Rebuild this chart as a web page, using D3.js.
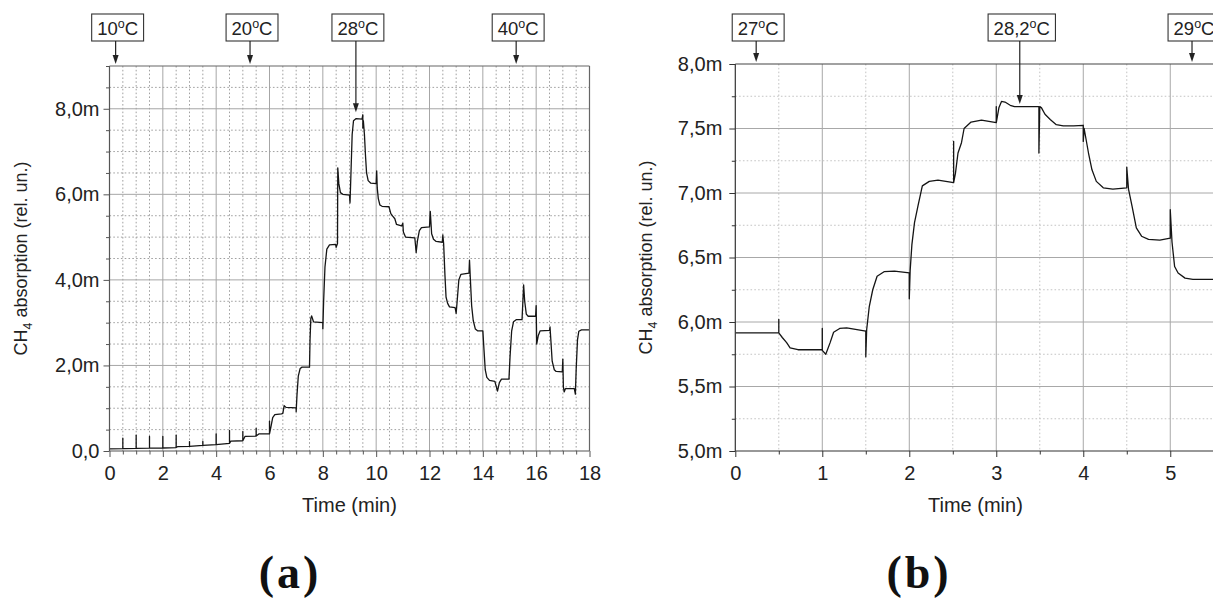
<!DOCTYPE html>
<html>
<head>
<meta charset="utf-8">
<script src="https://cdn.jsdelivr.net/npm/d3@7"></script>
<style>
  html, body { margin: 0; padding: 0; background: #fff; }
  svg { display: block; font-family: "Liberation Sans", Arial, Helvetica, sans-serif; }
</style>
</head>
<body>
<svg id="fig" width="1213" height="600"></svg>
<script>
// ---------- Panel (a): CH4 absorption during the 10–40 ºC temperature sweep ----------
const timeA = [
  0, 0.5, 0.5, 0.5, 1.0, 1.0, 1.0, 1.5, 1.5, 1.5, 2.0, 2.0, 2.0, 2.5, 2.5, 2.5, 2.55,
  3.0, 3.0, 3.0, 3.5, 3.5, 3.5, 4.0, 4.0, 4.0, 4.5, 4.5, 4.5, 4.55, 5.0, 5.0, 5.0, 5.08,
  5.5, 5.5, 5.5, 5.6, 6.0, 6.0, 6.0, 6.05, 6.12, 6.2, 6.45, 6.5, 6.55, 6.62, 7.0, 7.0,
  7.03, 7.08, 7.15, 7.22, 7.5, 7.52, 7.55, 7.58, 7.65, 8.0, 8.0, 8.03, 8.08, 8.15, 8.25,
  8.48, 8.5, 8.55, 8.56, 8.6, 8.66, 8.75, 9.0, 9.02, 9.06, 9.1, 9.15, 9.25, 9.47, 9.5,
  9.5, 9.52, 9.56, 9.6, 9.64, 9.7, 9.8, 10.0, 10.02, 10.04, 10.08, 10.14, 10.22, 10.48,
  10.55, 10.62, 10.7, 10.76, 10.95, 11.0, 11.02, 11.1, 11.45, 11.5, 11.55, 11.62, 11.7,
  12.0, 12.03, 12.08, 12.15, 12.25, 12.48, 12.5, 12.53, 12.58, 12.62, 12.68, 12.75, 12.96,
  13.0, 13.05, 13.1, 13.18, 13.48, 13.5, 13.53, 13.58, 13.64, 13.72, 13.8, 14.0, 14.04,
  14.09, 14.15, 14.25, 14.45, 14.55, 14.62, 14.7, 14.98, 15.02, 15.08, 15.15, 15.25, 15.47,
  15.53, 15.57, 15.63, 15.7, 15.98, 16.0, 16.02, 16.08, 16.15, 16.5, 16.52, 16.55, 16.6,
  16.68, 16.75, 16.98, 17.0, 17.02, 17.05, 17.1, 17.43, 17.47, 17.5, 17.55, 17.6, 17.7, 18.0
];
const absA = [
  0.05, 0.055, 0.30, 0.055, 0.06, 0.37, 0.06, 0.065, 0.34, 0.065, 0.07, 0.34, 0.07, 0.08, 0.37, 0.08, 0.10,
  0.11, 0.22, 0.11, 0.13, 0.23, 0.13, 0.15, 0.40, 0.15, 0.18, 0.48, 0.18, 0.23, 0.24, 0.45, 0.24, 0.34,
  0.35, 0.53, 0.35, 0.40, 0.40, 0.70, 0.40, 0.55, 0.78, 0.85, 0.87, 0.88, 1.06, 1.02, 1.01, 0.92,
  1.30, 1.75, 1.93, 1.96, 1.96, 2.60, 3.10, 3.16, 3.02, 3.00, 2.86, 3.50, 4.30, 4.72, 4.82,
  4.83, 4.76, 4.85, 6.62, 6.25, 6.04, 6.00, 5.98, 5.80, 6.60, 7.40, 7.72, 7.77, 7.76, 7.86,
  7.55, 7.72, 7.40, 6.90, 6.50, 6.32, 6.26, 6.25, 6.55, 6.15, 5.90, 5.75, 5.72, 5.71,
  5.55, 5.49, 5.43, 5.30, 5.26, 5.32, 5.12, 5.00, 4.98, 4.64, 4.92, 5.15, 5.22,
  5.24, 5.60, 5.08, 4.95, 4.90, 4.88, 5.05, 4.85, 4.10, 3.60, 3.45, 3.37, 3.35,
  3.22, 3.60, 4.00, 4.13, 4.16, 4.46, 4.05, 3.40, 3.05, 2.85, 2.81, 2.81, 2.40,
  1.90, 1.72, 1.65, 1.63, 1.40, 1.60, 1.68, 1.68, 2.20, 2.80, 3.02, 3.07, 3.07,
  3.88, 3.50, 3.20, 3.15, 3.15, 3.40, 2.50, 2.70, 2.81, 2.82, 2.90, 2.60, 2.10,
  1.90, 1.86, 1.85, 2.15, 1.50, 1.38, 1.46, 1.46, 1.33, 1.90, 2.60, 2.80, 2.83, 2.83
];
const xTicksA = [0, 2, 4, 6, 8, 10, 12, 14, 16, 18];
const yTicksA = [0, 2, 4, 6, 8];
const tempTimeA  = [0.23, 5.27, 9.24, 15.25];
const tempLabelA = ["10", "20", "28", "40"];
const tempTipA   = [null, null, 7.92, null];   // null: arrow stops at the frame

// ---------- Panel (b): CH4 absorption around 28 ºC ----------
const timeB = [
  0, 0.5, 0.5, 0.5, 0.54, 0.59, 0.63, 0.72, 1.0, 1.0, 1.0, 1.04, 1.09, 1.13, 1.2, 1.28,
  1.5, 1.5, 1.51, 1.54, 1.58, 1.63, 1.71, 1.83, 2.0, 2.0, 2.01, 2.03, 2.06, 2.1, 2.15,
  2.23, 2.33, 2.51, 2.51, 2.51, 2.53, 2.56, 2.6, 2.63, 2.71, 2.83, 3.0, 3.0, 3.0, 3.03,
  3.06, 3.1, 3.16, 3.21, 3.35, 3.49, 3.49, 3.5, 3.52, 3.56, 3.62, 3.69, 3.77, 3.89, 4.0,
  4.0, 4.01, 4.06, 4.1, 4.15, 4.23, 4.34, 4.5, 4.5, 4.52, 4.56, 4.61, 4.67, 4.75, 4.88,
  5.0, 5.0, 5.02, 5.05, 5.09, 5.17, 5.26, 5.55
];
const absB = [
  5.915, 5.915, 6.02, 5.915, 5.88, 5.84, 5.80, 5.785, 5.785, 5.95, 5.78, 5.75, 5.84, 5.92, 5.95, 5.955,
  5.93, 5.73, 5.94, 6.12, 6.25, 6.355, 6.39, 6.395, 6.38, 6.18, 6.40, 6.60, 6.77, 6.90, 7.055,
  7.09, 7.10, 7.08, 7.40, 7.08, 7.15, 7.31, 7.39, 7.50, 7.55, 7.565, 7.545, 7.67, 7.545, 7.66,
  7.71, 7.705, 7.68, 7.67, 7.67, 7.67, 7.31, 7.67, 7.66, 7.61, 7.57, 7.53, 7.52, 7.52, 7.525,
  7.40, 7.50, 7.31, 7.18, 7.09, 7.04, 7.03, 7.04, 7.20, 7.03, 6.90, 6.73, 6.665, 6.64, 6.635,
  6.65, 6.87, 6.62, 6.43, 6.38, 6.34, 6.33, 6.33
];
const xTicksB = [0, 1, 2, 3, 4, 5];
const yTicksB = [5.0, 5.5, 6.0, 6.5, 7.0, 7.5, 8.0];
const tempTimeB  = [0.24, 3.27, 5.25];
const tempLabelB = ["27", "28,2", "29"];
const tempTipB   = [null, 7.69, null];

// ---------- drawing ----------
const svg = d3.select("#fig");
svg.append("rect").attr("width", 1213).attr("height", 600).attr("fill", "#fff");

const fmtM = d => d === 0 ? "0,0" : d.toFixed(1).replace(".", ",") + "m";
const near = (a, b) => Math.abs(a - b) < 1e-6;
const isMult = (v, step) => near(v / step, Math.round(v / step));
const LABEL_SIZE = 20;

function panel(p) {
  const g = svg.append("g");
  const x = d3.scaleLinear().domain(p.xDomain).range(p.xRange);
  const y = d3.scaleLinear().domain(p.yDomain).range(p.yRange);
  const [xl, xr] = p.xRange;
  const [yb, yt] = p.yRange;

  const clipId = "clip-" + p.id;
  g.append("clipPath").attr("id", clipId)
    .append("rect").attr("x", xl).attr("y", yt).attr("width", xr - xl).attr("height", yb - yt);

  // grid
  const grid = g.append("g");
  const xg = d3.range(p.xDomain[0] + p.xMinor, p.xDomain[1] - 1e-6, p.xMinor);
  const yg = d3.range(p.yDomain[0] + p.yMinor, p.yDomain[1] - 1e-6, p.yMinor);
  xg.forEach(v => {
    const major = isMult(v, p.xMajor);
    grid.append("line")
      .attr("x1", x(v)).attr("x2", x(v)).attr("y1", yt).attr("y2", yb)
      .attr("stroke", major ? p.majorGrid : p.minorGrid)
      .attr("stroke-width", 1)
      .attr("stroke-dasharray", major ? null : "1.6,2.2");
  });
  yg.forEach(v => {
    const major = isMult(v - p.yDomain[0], p.yMajor);
    grid.append("line")
      .attr("x1", xl).attr("x2", xr).attr("y1", y(v)).attr("y2", y(v))
      .attr("stroke", major ? p.majorGrid : p.minorGrid)
      .attr("stroke-width", 1)
      .attr("stroke-dasharray", major ? null : "1.6,2.2");
  });

  // data trace
  const idx = d3.range(p.time.length);
  g.append("path")
    .attr("clip-path", `url(#${clipId})`)
    .attr("d", d3.line().x(i => x(p.time[i])).y(i => y(p.vals[i]))(idx))
    .attr("fill", "none").attr("stroke", "#151515").attr("stroke-width", 1.3)
    .attr("stroke-linejoin", "round");

  // axes: minor ticks first, then labelled major ticks
  const styleAxis = sel => {
    sel.select(".domain").remove();
    sel.selectAll(".tick line").attr("stroke", p.frame);
    sel.selectAll(".tick text").attr("fill", "#222").attr("font-size", LABEL_SIZE)
      .attr("font-family", "'Liberation Sans', Arial, sans-serif");
  };
  const xMinorTicks = d3.range(p.xDomain[0], p.xDomain[1] + 1e-6, p.xMinor)
    .filter(v => !p.xTicks.some(t => near(t, v)));
  const yMinorTicks = d3.range(p.yDomain[0], p.yDomain[1] + 1e-6, p.yMinor)
    .filter(v => !p.yTicks.some(t => near(t, v)));

  g.append("g").attr("transform", `translate(0,${yb})`)
    .call(d3.axisBottom(x).tickValues(xMinorTicks).tickSize(3.5).tickFormat(""))
    .call(styleAxis);
  g.append("g").attr("transform", `translate(0,${yb})`)
    .call(d3.axisBottom(x).tickValues(p.xTicks).tickSize(6).tickPadding(9).tickFormat(d => d))
    .call(styleAxis);
  g.append("g").attr("transform", `translate(${xl},0)`)
    .call(d3.axisLeft(y).tickValues(yMinorTicks).tickSize(3.5).tickFormat(""))
    .call(styleAxis);
  g.append("g").attr("transform", `translate(${xl},0)`)
    .call(d3.axisLeft(y).tickValues(p.yTicks).tickSize(6).tickPadding(p.yPad).tickFormat(fmtM))
    .call(styleAxis);

  // frame
  const frame = g.append("g").attr("stroke", p.frame).attr("stroke-width", 1.2).attr("fill", "none");
  frame.append("line").attr("x1", xl).attr("x2", xl).attr("y1", yt).attr("y2", yb);
  frame.append("line").attr("x1", xl).attr("x2", xr).attr("y1", yb).attr("y2", yb);
  frame.append("line").attr("x1", xl).attr("x2", xr).attr("y1", yt).attr("y2", yt).attr("stroke", p.frameTop);
  frame.append("line").attr("x1", xr).attr("x2", xr).attr("y1", yt).attr("y2", yb).attr("stroke", p.frameTop);

  // axis titles
  g.append("text")
    .attr("x", (xl + xr) / 2).attr("y", 512)
    .attr("text-anchor", "middle").attr("font-size", LABEL_SIZE).attr("fill", "#222")
    .text("Time (min)");
  const yt1 = g.append("text")
    .attr("transform", `translate(${p.yTitleX},${(yt + yb) / 2}) rotate(-90)`)
    .attr("text-anchor", "middle").attr("font-size", 18).attr("fill", "#222");
  yt1.append("tspan").text("CH");
  yt1.append("tspan").attr("font-size", 12.5).attr("dy", 5).text("4");
  yt1.append("tspan").attr("dy", -5).text(" absorption (rel. un.)");

  // temperature markers
  p.tempTime.forEach((t, i) => {
    const ax = x(t);
    const tipY = p.tempTip[i] == null ? yt - 2 : y(p.tempTip[i]);
    const m = g.append("g");
    const txt = m.append("text")
      .attr("x", ax + 2).attr("y", 34.5)
      .attr("text-anchor", "middle").attr("font-size", 18.5).attr("fill", "#222");
    txt.append("tspan").text(p.tempLabel[i]);
    txt.append("tspan").attr("font-size", 12.5).attr("dy", -7).text("o");
    txt.append("tspan").attr("dy", 7).text("C");
    const w = txt.node().getComputedTextLength();
    m.insert("rect", "text")
      .attr("x", ax + 2 - w / 2 - 5.5).attr("y", 14)
      .attr("width", w + 11).attr("height", 27)
      .attr("fill", "#fff").attr("stroke", "#333").attr("stroke-width", 1.1);
    m.append("line")
      .attr("x1", ax).attr("x2", ax).attr("y1", 41).attr("y2", tipY - 8)
      .attr("stroke", "#222").attr("stroke-width", 1.2);
    m.append("path")
      .attr("d", `M${ax - 3},${tipY - 9}L${ax + 3},${tipY - 9}L${ax},${tipY}Z`)
      .attr("fill", "#222");
  });

  // panel letter
  svg.append("text")
    .attr("x", p.letterX).attr("y", 588)
    .attr("text-anchor", "middle")
    .attr("font-family", "'Liberation Serif', 'Times New Roman', serif")
    .attr("font-weight", "bold").attr("font-size", 46).attr("letter-spacing", 3)
    .attr("fill", "#111")
    .text(p.letter);
}

panel({
  id: "a",
  time: timeA, vals: absA,
  xDomain: [0, 18], xRange: [109.5, 589.5],
  yDomain: [0, 9], yRange: [451, 66],
  xTicks: xTicksA, yTicks: yTicksA,
  xMajor: 2, xMinor: 0.5, yMajor: 2, yMinor: 0.5,
  majorGrid: "#a6a6a6", minorGrid: "#a0a0a0",
  frame: "#555", frameTop: "#666",
  yPad: 4, yTitleX: 27,
  tempTime: tempTimeA, tempLabel: tempLabelA, tempTip: tempTipA,
  letter: "(a)", letterX: 290
});

panel({
  id: "b",
  time: timeB, vals: absB,
  xDomain: [0, 5.52], xRange: [735.3, 1215.5],
  yDomain: [5, 8], yRange: [451, 64],
  xTicks: xTicksB, yTicks: yTicksB,
  xMajor: 1, xMinor: 0.5, yMajor: 0.5, yMinor: 0.25,
  majorGrid: "#a8a8a8", minorGrid: "#c4c4c4",
  frame: "#333", frameTop: "#444",
  yPad: 7, yTitleX: 652,
  tempTime: tempTimeB, tempLabel: tempLabelB, tempTip: tempTipB,
  letter: "(b)", letterX: 919
});
</script>
</body>
</html>
